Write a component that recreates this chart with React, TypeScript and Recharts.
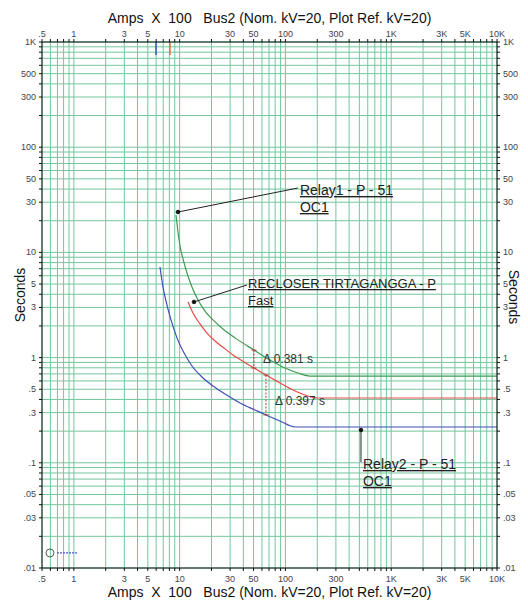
import { LineChart, Line, XAxis, YAxis, CartesianGrid, ReferenceLine, ReferenceDot } from 'recharts'

// grid lines (every tick also draws a grid line)
const xGrid = [
  0.5, 0.6, 0.7, 0.8, 0.9,
  1, 2, 3, 4, 5, 6, 7, 8, 9,
  10, 20, 30, 40, 50, 60, 70, 80, 90,
  100, 200, 300, 400, 500, 600, 700, 800, 900,
  1000, 2000, 3000, 4000, 5000, 6000, 7000, 8000, 9000,
  10000,
]
const xLabels = [0.5, 1, 3, 5, 10, 30, 50, 100, 300, 1000, 3000, 5000, 10000]

const yGrid = [
  0.01, 0.02, 0.03, 0.04, 0.05, 0.06, 0.07, 0.08, 0.09,
  0.1, 0.2, 0.3, 0.4, 0.5, 0.6, 0.7, 0.8, 0.9,
  1, 2, 3, 4, 5, 6, 7, 8, 9,
  10, 20, 30, 40, 50, 60, 70, 80, 90,
  100, 200, 300, 400, 500, 600, 700, 800, 900,
  1000,
]
const yLabels = [0.01, 0.03, 0.05, 0.1, 0.3, 0.5, 1, 3, 5, 10, 30, 50, 100, 300, 500, 1000]

// curves: a = amps x 100, t = seconds
const relay1 = [
  { a: 9.24, t: 22.67 },
  { a: 9.65, t: 15.63 },
  { a: 10.08, t: 11.5 },
  { a: 10.76, t: 8.66 },
  { a: 11.74, t: 6.37 },
  { a: 13.08, t: 4.69 },
  { a: 14.59, t: 3.69 },
  { a: 17.36, t: 2.77 },
  { a: 20.67, t: 2.28 },
  { a: 25.69, t: 1.87 },
  { a: 33.36, t: 1.54 },
  { a: 50.44, t: 1.18 },
  { a: 71.45, t: 0.949 },
  { a: 99.05, t: 0.796 },
  { a: 131.4, t: 0.714 },
  { a: 170.7, t: 0.668 },
  { a: 10000, t: 0.668 },
]
const recloser = [
  { a: 12.0, t: 3.38 },
  { a: 13.37, t: 2.66 },
  { a: 15.57, t: 2.09 },
  { a: 18.14, t: 1.71 },
  { a: 21.59, t: 1.44 },
  { a: 26.83, t: 1.21 },
  { a: 31.94, t: 1.06 },
  { a: 40.59, t: 0.908 },
  { a: 50.44, t: 0.796 },
  { a: 65.5, t: 0.683 },
  { a: 88.8, t: 0.574 },
  { a: 117.8, t: 0.492 },
  { a: 153.1, t: 0.441 },
  { a: 198.7, t: 0.413 },
  { a: 10000, t: 0.413 },
]
const relay2 = [
  { a: 6.52, t: 7.26 },
  { a: 6.96, t: 4.69 },
  { a: 7.59, t: 3.16 },
  { a: 8.47, t: 2.13 },
  { a: 9.44, t: 1.54 },
  { a: 10.99, t: 1.11 },
  { a: 13.08, t: 0.832 },
  { a: 16.27, t: 0.654 },
  { a: 20.67, t: 0.537 },
  { a: 26.83, t: 0.451 },
  { a: 37.19, t: 0.37 },
  { a: 51.55, t: 0.318 },
  { a: 65.5, t: 0.285 },
  { a: 88.8, t: 0.25 },
  { a: 123.1, t: 0.219 },
  { a: 10000, t: 0.219 },
]

// coordination gaps
const deltas = [
  { a: 50.44, hi: 1.18, lo: 0.796, label: '\u0394 0.381 s', la: 61.4, lt: 0.97 },
  { a: 65.5, hi: 0.683, lo: 0.285, label: '\u0394 0.397 s', la: 79.6, lt: 0.387 },
]

// callouts: leader from (a1,t1) to (a2,t2), text at (la,lt)
const callouts = [
  { a1: 9.64, t1: 24.2, a2: 131, t2: 40.9, la: 137, lt: 39.2, size: 14, lines: ['Relay1 - P - 51', 'OC1'] },
  { a1: 13.67, t1: 3.38, a2: 43.3, t2: 4.9, la: 44.3, lt: 5.12, size: 13, lines: ['RECLOSER TIRTAGANGGA - P', 'Fast'] },
  { a1: 518, t1: 0.205, a2: 518, t2: 0.1018, la: 541, lt: 0.0975, size: 14, lines: ['Relay2 - P - 51', 'OC1'] },
]

// instantaneous marks at the top edge
const topMarks = [
  { a: 5.98, color: '#3a55b8' },
  { a: 8.1, color: '#d9703a' },
]

const FONT = 'Arial, "Liberation Sans", sans-serif'
const GRID = '#74c69d'

const fmt = (v: number) => {
  if (v >= 1000) return `${v / 1000}K`
  if (v < 1) return String(v).replace(/^0/, '')
  return String(v)
}

const tickStyle = { fontSize: 9, fill: '#444', fontFamily: FONT }

function TopTick({ x, y, payload }: any) {
  if (!xLabels.includes(payload.value)) return <g />
  return <text x={x} y={y} textAnchor="middle" {...tickStyle}>{fmt(payload.value)}</text>
}
function BottomTick({ x, y, payload }: any) {
  if (!xLabels.includes(payload.value)) return <g />
  return <text x={x} y={y + 9} textAnchor="middle" {...tickStyle}>{fmt(payload.value)}</text>
}
function LeftTick({ x, y, payload }: any) {
  if (!yLabels.includes(payload.value)) return <g />
  return <text x={x - 1} y={y + 3} textAnchor="end" {...tickStyle}>{fmt(payload.value)}</text>
}
function RightTick({ x, y, payload }: any) {
  if (!yLabels.includes(payload.value)) return <g />
  return <text x={x + 1} y={y + 3} textAnchor="start" {...tickStyle}>{fmt(payload.value)}</text>
}

const ids = { xAxisId: 'bottom', yAxisId: 'left' }

export default function App() {
  const title = 'Amps  X  100   Bus2 (Nom. kV=20, Plot Ref. kV=20)'
  return (
    <div style={{ position: 'absolute', left: 0, top: 0, width: 528, height: 601, background: '#fff', fontFamily: FONT }}>
      <LineChart width={528} height={601} margin={{ top: 0, right: 0, bottom: 0, left: 0 }}>
        <CartesianGrid {...ids} stroke={GRID} strokeWidth={1} />
        <XAxis
          xAxisId="bottom" orientation="bottom" type="number" dataKey="a" scale="log"
          domain={[0.5, 10000]} allowDataOverflow ticks={xGrid} interval={0}
          height={33} tickSize={3} tick={<BottomTick />} stroke="#111"
        />
        <XAxis
          xAxisId="top" orientation="top" type="number" dataKey="a" scale="log"
          domain={[0.5, 10000]} allowDataOverflow ticks={xGrid} interval={0}
          height={42} tickSize={3} tick={<TopTick />} stroke="#111"
        />
        <YAxis
          yAxisId="left" orientation="left" type="number" scale="log"
          domain={[0.01, 1000]} allowDataOverflow ticks={yGrid} interval={0}
          width={42} tickSize={3} tick={<LeftTick />} stroke="#111"
        />
        <YAxis
          yAxisId="right" orientation="right" type="number" scale="log"
          domain={[0.01, 1000]} allowDataOverflow ticks={yGrid} interval={0}
          width={31} tickSize={3} tick={<RightTick />} stroke="#111"
        />

        {topMarks.map((m, i) => (
          <ReferenceLine key={`m${i}`} {...ids} segment={[{ x: m.a, y: 1000 }, { x: m.a, y: 752 }]} stroke={m.color} strokeWidth={1.5} />
        ))}

        <Line {...ids} data={relay1} dataKey="t" type="monotone" stroke="#3f9a52" strokeWidth={1.2} dot={false} isAnimationActive={false} />
        <Line {...ids} data={recloser} dataKey="t" type="monotone" stroke="#e84a48" strokeWidth={1.2} dot={false} isAnimationActive={false} />
        <Line {...ids} data={relay2} dataKey="t" type="monotone" stroke="#3d4fb8" strokeWidth={1.2} dot={false} isAnimationActive={false} />

        {deltas.map((d, i) => (
          <ReferenceLine key={`d${i}`} {...ids} segment={[{ x: d.a, y: d.hi }, { x: d.a, y: d.lo }]} stroke="#a84040" strokeDasharray="2 1.5" strokeWidth={1} />
        ))}
        {deltas.flatMap((d, i) => [d.hi, d.lo].map((t, j) => (
          <ReferenceDot key={`c${i}${j}`} {...ids} x={d.a} y={t} shape={(p: any) => (
            <line x1={p.cx - 2.5} x2={p.cx + 2.5} y1={p.cy} y2={p.cy} stroke="#a84040" strokeWidth={1} />
          )} />
        )))}
        {deltas.map((d, i) => (
          <ReferenceDot key={`dl${i}`} {...ids} x={d.la} y={d.lt} shape={(p: any) => (
            <text x={p.cx} y={p.cy + 4.5} fontSize={12} fill="#333" fontFamily={FONT}>{d.label}</text>
          )} />
        ))}

        {callouts.map((c, i) => (
          <ReferenceLine key={`l${i}`} {...ids} segment={[{ x: c.a1, y: c.t1 }, { x: c.a2, y: c.t2 }]} stroke="#222" strokeWidth={1} />
        ))}
        {callouts.map((c, i) => (
          <ReferenceDot key={`p${i}`} {...ids} x={c.a1} y={c.t1} r={1.8} fill="#111" stroke="#111" />
        ))}
        {callouts.map((c, i) => (
          <ReferenceDot key={`t${i}`} {...ids} x={c.la} y={c.lt} shape={(p: any) => (
            <g>
              {c.lines.map((s, k) => (
                <text key={k} x={p.cx} y={p.cy + 5 + k * 17} fontSize={c.size} fill="#222" fontFamily={FONT} textDecoration="underline">{s}</text>
              ))}
            </g>
          )} />
        ))}

        <ReferenceDot {...ids} x={0.595} y={0.0139} shape={(p: any) => (
          <g>
            <circle cx={p.cx} cy={p.cy} r={4} fill="none" stroke="#333" strokeWidth={0.8} />
            <line x1={p.cx + 7} x2={p.cx + 27} y1={p.cy} y2={p.cy} stroke="#4060d0" strokeWidth={1.2} strokeDasharray="2 1" />
          </g>
        )} />
      </LineChart>

      <div style={{ position: 'absolute', left: 42, width: 455, top: 10, fontSize: 14, lineHeight: '16px', textAlign: 'center', whiteSpace: 'pre', color: '#111' }}>{title}</div>
      <div style={{ position: 'absolute', left: 42, width: 455, top: 584, fontSize: 14, lineHeight: '16px', textAlign: 'center', whiteSpace: 'pre', color: '#111' }}>{title}</div>
      <div style={{ position: 'absolute', left: 20, top: 295, fontSize: 14, lineHeight: '16px', whiteSpace: 'pre', color: '#111', transform: 'translate(-50%, -50%) rotate(-90deg)' }}>Seconds</div>
      <div style={{ position: 'absolute', left: 514, top: 297, fontSize: 14, lineHeight: '16px', whiteSpace: 'pre', color: '#111', transform: 'translate(-50%, -50%) rotate(90deg)' }}>Seconds</div>
    </div>
  )
}
